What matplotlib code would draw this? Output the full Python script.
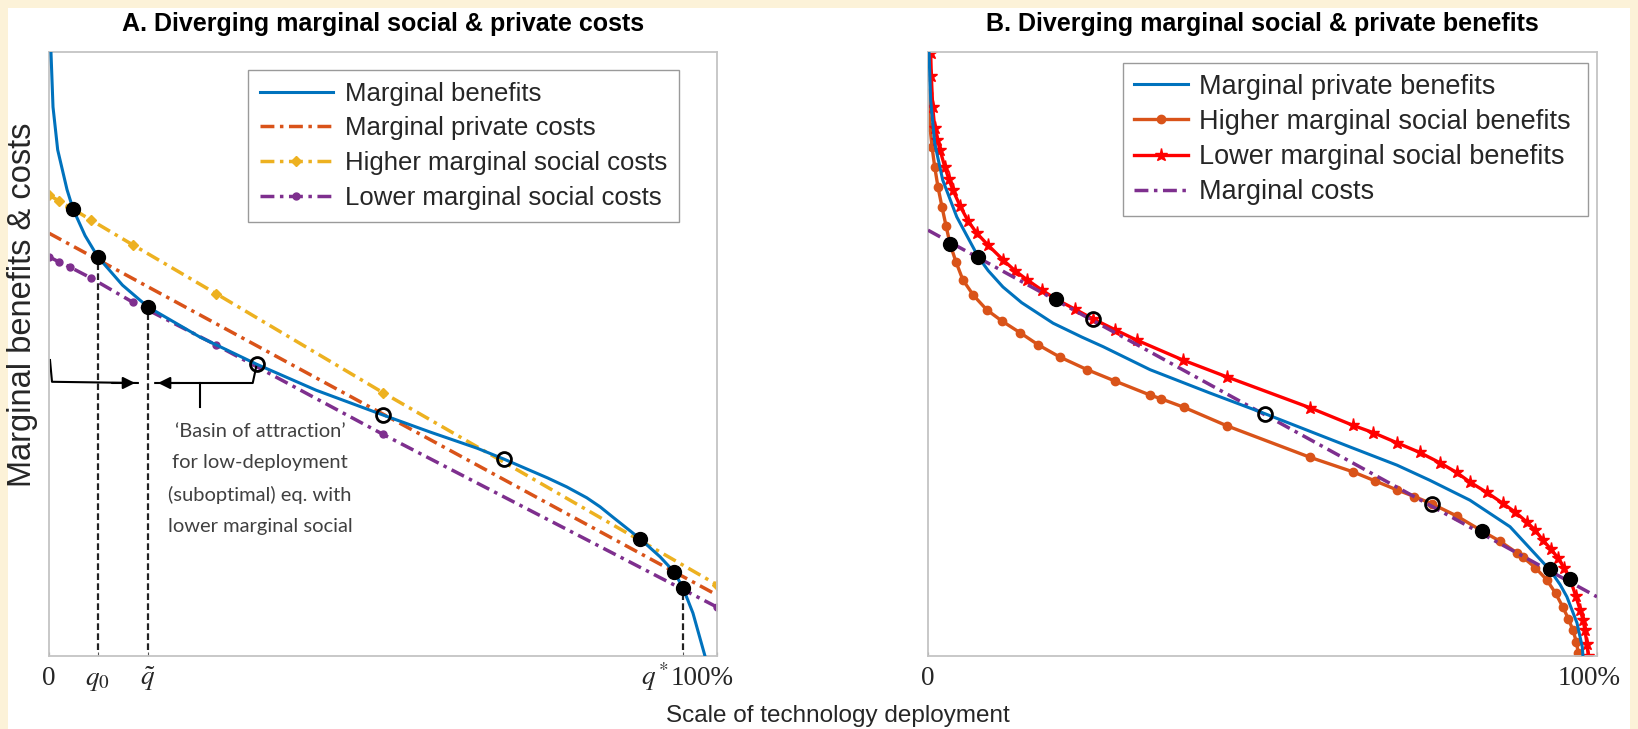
import matplotlib
matplotlib.use('Agg')
from matplotlib import pyplot as plt
from matplotlib.patches import Rectangle

plt.rcParams['font.family'] = ['Liberation Sans', 'DejaVu Sans']
plt.rcParams['mathtext.fontset'] = 'stix'

# colours (MATLAB defaults)
BLUE = '#0072BD'
ORANGE = '#D95319'
YELLOW = '#EDB120'
PURPLE = '#7E2F8E'
RED = '#FF0000'

# ---------- panel A data (x: share of deployment, y: benefits/costs) ----------
a_mb_x = [0.003, 0.006, 0.013, 0.027, 0.036, 0.054, 0.073, 0.110, 0.148, 0.226, 0.311, 0.40,
          0.500, 0.570, 0.641, 0.681, 0.746, 0.775, 0.805, 0.825, 0.844, 0.885, 0.915, 0.936,
          0.949, 0.964, 0.982]
a_mb_y = [0.998, 0.909, 0.838, 0.772, 0.740, 0.696, 0.661, 0.614, 0.578, 0.528, 0.483, 0.440,
          0.399, 0.371, 0.344, 0.326, 0.295, 0.280, 0.262, 0.247, 0.230, 0.194, 0.164, 0.139,
          0.113, 0.071, 0.0]
a_cost_x = [0, 1/64, 1/32, 1/16, 1/8, 1/4, 1/2, 1]
a_high_y = [0.763, 0.753, 0.743, 0.722, 0.681, 0.600, 0.436, 0.118]
a_low_y = [0.661, 0.652, 0.644, 0.626, 0.586, 0.515, 0.367, 0.081]
a_priv_x = [0, 1]
a_priv_y = [0.700, 0.101]
a_stable_x = [0.036, 0.073, 0.148, 0.885, 0.936, 0.949]
a_stable_y = [0.740, 0.661, 0.578, 0.194, 0.139, 0.113]
a_unstable_x = [0.311, 0.500, 0.681]
a_unstable_y = [0.483, 0.399, 0.326]
q0, qt, qs = 0.073, 0.148, 0.949
a_tick_x = [0, q0, qt, qs, 1]
a_tick_labels = ['0', '$q_0$', r'$\tilde{q}$', '$q^*$', '100%']

# ---------- panel B data ----------
b_mpb_x = [0.0015, 0.004, 0.010, 0.022, 0.043, 0.075, 0.090, 0.112, 0.140, 0.187, 0.230, 0.262,
           0.332, 0.420, 0.504, 0.631, 0.701, 0.750, 0.810, 0.870, 0.885, 0.900, 0.915, 0.930,
           0.945, 0.955, 0.970, 0.978, 0.979]
b_mpb_y = [1.0, 0.920, 0.849, 0.788, 0.727, 0.661, 0.638, 0.611, 0.585, 0.551, 0.528, 0.512,
           0.474, 0.436, 0.401, 0.346, 0.316, 0.291, 0.258, 0.214, 0.196, 0.178, 0.160, 0.142,
           0.118, 0.098, 0.055, 0.015, 0.0]
b_high_x = [0.0, 0.001, 0.003, 0.006, 0.010, 0.015, 0.021, 0.027, 0.033, 0.042, 0.052, 0.068,
            0.088, 0.110, 0.138, 0.165, 0.197, 0.238, 0.280, 0.332, 0.348, 0.382, 0.447, 0.571,
            0.635, 0.668, 0.701, 0.727, 0.753, 0.790, 0.828, 0.855, 0.880, 0.889, 0.908, 0.925,
            0.938, 0.949, 0.957, 0.964, 0.969, 0.972]
b_high_y = [0.932, 0.905, 0.876, 0.843, 0.810, 0.776, 0.743, 0.712, 0.682, 0.652, 0.623, 0.597,
            0.573, 0.555, 0.535, 0.515, 0.495, 0.474, 0.455, 0.432, 0.426, 0.412, 0.381, 0.329,
            0.305, 0.290, 0.275, 0.264, 0.252, 0.232, 0.207, 0.190, 0.171, 0.164, 0.146, 0.126,
            0.104, 0.081, 0.062, 0.043, 0.024, 0.005]
b_low_x = [0.004, 0.005, 0.007, 0.010, 0.014, 0.018, 0.025, 0.031, 0.037, 0.048, 0.060, 0.073,
           0.090, 0.112, 0.130, 0.148, 0.170, 0.191, 0.220, 0.247, 0.280, 0.312, 0.381, 0.447,
           0.571, 0.635, 0.665, 0.701, 0.735, 0.765, 0.790, 0.810, 0.835, 0.859, 0.878, 0.895,
           0.908, 0.919, 0.931, 0.942, 0.951, 0.960, 0.968, 0.975, 0.979, 0.982, 0.985, 0.987]
b_low_y = [0.998, 0.960, 0.909, 0.875, 0.855, 0.838, 0.810, 0.790, 0.772, 0.745, 0.720, 0.700,
           0.680, 0.656, 0.638, 0.623, 0.606, 0.591, 0.574, 0.558, 0.540, 0.523, 0.490, 0.462,
           0.411, 0.382, 0.370, 0.353, 0.337, 0.320, 0.304, 0.288, 0.271, 0.253, 0.238, 0.222,
           0.208, 0.192, 0.177, 0.162, 0.145, 0.127, 0.100, 0.076, 0.060, 0.043, 0.020, 0.0]
b_cost_x = [0, 1]
b_cost_y = [0.705, 0.098]
b_stable_x = [0.033, 0.075, 0.191, 0.828, 0.930, 0.960]
b_stable_y = [0.682, 0.661, 0.591, 0.207, 0.144, 0.127]
b_unstable_x = [0.247, 0.504, 0.753]
b_unstable_y = [0.558, 0.401, 0.252]
b_tick_x = [0, 1]
b_tick_labels = ['0', '100%']

# bracket around the basin of attraction (panel A)
brace_left_x = [0.0015, 0.0045, 0.133]
brace_left_y = [0.490, 0.454, 0.452]
brace_right_x = [0.311, 0.305, 0.159]
brace_right_y = [0.483, 0.452, 0.452]
brace_tip_x = [0.226, 0.226]
brace_tip_y = [0.452, 0.412]

dashdot = (0, (4, 1.6, 1, 1.6))
TXT = '#262626'
SERIF = ['Liberation Serif', 'DejaVu Serif']

fig = plt.figure(figsize=(16.38, 7.29), dpi=100)
fig.patch.set_facecolor('#FCF2D8')
fig.add_artist(Rectangle((8 / 1638, 0), 1622 / 1638, 1 - 8 / 729, transform=fig.transFigure,
                         facecolor='white', edgecolor='none', zorder=-5))

axA = fig.add_axes([49 / 1638, 1 - 656 / 729, 668 / 1638, 604 / 729])
axB = fig.add_axes([928 / 1638, 1 - 656 / 729, 669 / 1638, 604 / 729])

for ax in (axA, axB):
    ax.set_zorder(2)
    ax.set_xlim(0, 1)
    ax.set_ylim(0, 1)
    ax.set_facecolor('white')
    for s in ax.spines.values():
        s.set_color('#c4c4c4')
        s.set_linewidth(1.3)
    ax.tick_params(direction='in', length=3, color='#555555', labelbottom=False)
    ax.set_yticks([])


def tick_text(ax, x, label, ha='center'):
    ax.text(x, -0.048, label, transform=ax.get_xaxis_transform(), ha=ha, va='baseline',
            fontsize=19.5, color=TXT, family=SERIF)


# ---- panel A ----
axA.plot(a_mb_x, a_mb_y, color=BLUE, lw=2.2, label='Marginal benefits', zorder=4)
axA.plot(a_priv_x, a_priv_y, color=ORANGE, lw=2.5, ls=dashdot, label='Marginal private costs')
axA.plot(a_cost_x, a_high_y, color=YELLOW, lw=2.5, ls=dashdot, marker='D', ms=5,
         label='Higher marginal social costs')
axA.plot(a_cost_x, a_low_y, color=PURPLE, lw=2.5, ls=dashdot, marker='o', ms=5,
         label='Lower marginal social costs')
for xv, yv in zip([q0, qt, qs], [a_stable_y[1], a_stable_y[2], a_stable_y[5]]):
    axA.plot([xv, xv], [0.01, yv], color='#222222', lw=1.6, ls=(0, (3, 1.5)), zorder=3)
axA.plot(a_stable_x, a_stable_y, 'o', color='black', ms=10, zorder=6)
axA.plot(a_unstable_x, a_unstable_y, 'o', mfc='none', mec='black', mew=2, ms=10, zorder=6)

axA.plot(brace_left_x, brace_left_y, color='black', lw=1.5)
axA.plot(brace_right_x, brace_right_y, color='black', lw=1.5)
axA.plot(brace_tip_x, brace_tip_y, color='black', lw=1.5)
axA.annotate('', xy=(brace_left_x[-1], brace_left_y[-1]), xytext=(0.09, brace_left_y[-1]),
             arrowprops=dict(arrowstyle='-|>', color='black', lw=1.5, mutation_scale=18))
axA.annotate('', xy=(brace_right_x[-1], brace_right_y[-1]), xytext=(0.20, brace_right_y[-1]),
             arrowprops=dict(arrowstyle='-|>', color='black', lw=1.5, mutation_scale=18))
axA.text(0.316, 0.293, '\u2018Basin of attraction\u2019\nfor low-deployment\n(suboptimal) eq. with\nlower marginal social',
         ha='center', va='center', fontsize=14.5, color='#404040', family=['Lato', 'DejaVu Sans'],
         linespacing=2.0)

axA.set_xticks(a_tick_x)
for xv, lab in zip(a_tick_x[:3], a_tick_labels[:3]):
    tick_text(axA, xv, lab)
tick_text(axA, 0.928, a_tick_labels[3], ha='right')
tick_text(axA, 0.931, a_tick_labels[4], ha='left')

legA = axA.legend(loc='upper left', bbox_to_anchor=(0.298, 0.732, 0.645, 0.238), mode='expand',
                  borderaxespad=0, fontsize=18.5, handlelength=2.85, fancybox=False,
                  edgecolor='#9a9a9a', framealpha=1, labelspacing=0.42, handletextpad=0.47,
                  borderpad=0.45)
for t in legA.get_texts():
    t.set_color(TXT)

# ---- panel B ----
axB.plot(b_mpb_x, b_mpb_y, color=BLUE, lw=2.2, label='Marginal private benefits', zorder=4)
axB.plot(b_high_x, b_high_y, color=ORANGE, lw=2.4, marker='o', ms=6,
         label='Higher marginal social benefits')
axB.plot(b_low_x, b_low_y, color=RED, lw=2.4, marker='*', ms=9.5,
         label='Lower marginal social benefits')
axB.plot(b_cost_x, b_cost_y, color=PURPLE, lw=2.5, ls=dashdot, label='Marginal costs', zorder=3)
axB.plot(b_stable_x, b_stable_y, 'o', color='black', ms=10, zorder=6)
axB.plot(b_unstable_x, b_unstable_y, 'o', mfc='none', mec='black', mew=2, ms=10, zorder=6)
axB.set_xticks(b_tick_x)
tick_text(axB, b_tick_x[0], b_tick_labels[0])
tick_text(axB, 1.035, b_tick_labels[1], ha='right')

legB = axB.legend(loc='upper left', bbox_to_anchor=(0.291, 0.743, 0.696, 0.239), mode='expand',
                  borderaxespad=0, fontsize=19.5, handlelength=2.0, fancybox=False,
                  edgecolor='#9a9a9a', framealpha=1, labelspacing=0.34, handletextpad=0.4,
                  borderpad=0.4)
for t in legB.get_texts():
    t.set_color(TXT)

# ---- titles and shared labels ----
fig.text((49 + 717) / 2 / 1638, 1 - 24 / 729, 'A. Diverging marginal social & private costs',
         ha='center', va='center', fontsize=18, fontweight='bold', color='black')
fig.text((928 + 1597) / 2 / 1638, 1 - 24 / 729, 'B. Diverging marginal social & private benefits',
         ha='center', va='center', fontsize=18, fontweight='bold', color='black')
fig.text(23 / 1638, 1 - 305 / 729, 'Marginal benefits & costs', rotation=90,
         ha='center', va='center', fontsize=23.5, color=TXT)
fig.text(838 / 1638, 1 - 716 / 729, 'Scale of technology deployment',
         ha='center', va='center', fontsize=17.5, color=TXT)

fig.savefig('out.png', dpi=100, facecolor=fig.get_facecolor())
